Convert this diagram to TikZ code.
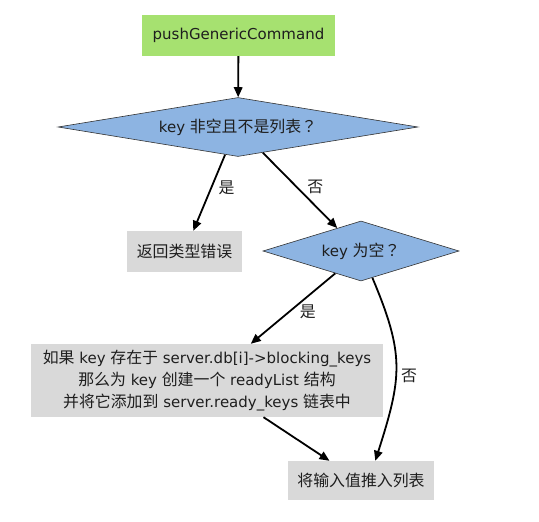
\documentclass[tikz,border=0pt]{standalone}
\usepackage{fontspec}
\setmainfont{DejaVu Sans}
\newfontfamily\cjk{Noto Sans CJK SC}[Scale=1.06]
\newfontfamily\cjkq{Noto Sans CJK TC}[Scale=1.06]
\usetikzlibrary{shapes.geometric,arrows.meta}
\definecolor{startgreen}{RGB}{166,225,112}
\definecolor{decblue}{RGB}{141,180,226}
\definecolor{boxgray}{RGB}{217,217,217}
\definecolor{txt}{RGB}{30,30,30}
\begin{document}
\begin{tikzpicture}[x=1pt,y=-1pt,
  every node/.style={font=\fontsize{15}{22}\selectfont, text=txt},
  startbox/.style={rectangle, fill=startgreen, inner sep=0, minimum width=193pt, minimum height=41pt},
  decision/.style={diamond, aspect=6, fill=decblue, draw=black!80, line width=0.6pt, inner sep=0},
  procbox/.style={rectangle, fill=boxgray, inner sep=0},
  flow/.style={line width=1.8pt, -{Triangle[length=10pt,width=8.5pt]}},
  lbl/.style={font=\cjk\fontsize{15}{18}\selectfont}
]
\useasboundingbox (0,0) rectangle (539,522);
\node[startbox] (start) at (238.5,35.5) {pushGenericCommand};
\node[decision, minimum width=360pt, minimum height=59pt] (d1) at (238,127) {key {\cjk 非空且不是列表}{\cjkq ？}};
\node[procbox, minimum width=115pt, minimum height=41pt] (err) at (184.5,251.5) {\cjk 返回类型错误};
\node[decision, minimum width=196pt, minimum height=60pt] (d2) at (361,251) {key {\cjk 为空}{\cjkq ？}};
\node[procbox, minimum width=352pt, minimum height=73pt, align=center] (ready) at (207,380.5)
  {{\cjk 如果} key {\cjk 存在于} server.db[i]->blocking\_keys\\
   {\cjk 那么为} key {\cjk 创建一个} readyList {\cjk 结构}\\
   {\cjk 并将它添加到} server.ready\_keys {\cjk 链表中}};
\node[procbox, minimum width=146pt, minimum height=39pt] (push) at (361,480.5) {\cjk 将输入值推入列表};

\draw[flow] (start) -- (d1);
\draw[flow] (d1.-115) -- node[lbl, pos=0.43, right=3pt] (l1) {是} (err.67.5);
\draw[flow] (d1.-46) -- node[lbl, pos=0.46, right=6pt] (l2) {否} (d2.136);
\draw[flow] (d2.-139) -- node[lbl, pos=0.54, right=6pt] (l3) {是} (ready.40);
\draw[flow] (d2.-67.5) .. controls (405,355) and (402,377) .. node[lbl, pos=0.56, right=1pt] (l4) {否} (push.54);
\draw[flow] (ready.-33) -- (push.148);
\end{tikzpicture}
\end{document}
